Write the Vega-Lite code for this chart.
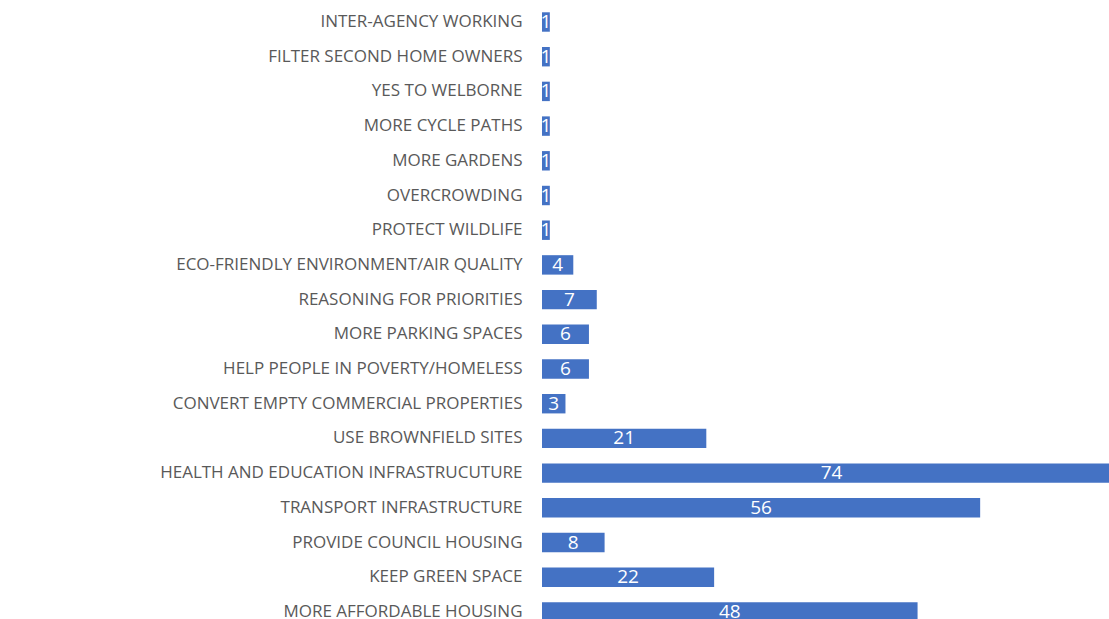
{
  "$schema": "https://vega.github.io/schema/vega-lite/v6.json",
  "width": 567,
  "height": 619,
  "autosize": "none",
  "padding": {"left": 542, "top": 0, "right": 0, "bottom": 0},
  "background": "white",
  "config": {"view": {"stroke": null}},
  "data": {
    "values": [
      {"category": "INTER-AGENCY WORKING", "count": 1},
      {"category": "FILTER SECOND HOME OWNERS", "count": 1},
      {"category": "YES TO WELBORNE", "count": 1},
      {"category": "MORE CYCLE PATHS", "count": 1},
      {"category": "MORE GARDENS", "count": 1},
      {"category": "OVERCROWDING", "count": 1},
      {"category": "PROTECT WILDLIFE", "count": 1},
      {"category": "ECO-FRIENDLY ENVIRONMENT/AIR QUALITY", "count": 4},
      {"category": "REASONING FOR PRIORITIES", "count": 7},
      {"category": "MORE PARKING SPACES", "count": 6},
      {"category": "HELP PEOPLE IN POVERTY/HOMELESS", "count": 6},
      {"category": "CONVERT EMPTY COMMERCIAL PROPERTIES", "count": 3},
      {"category": "USE BROWNFIELD SITES", "count": 21},
      {"category": "HEALTH AND EDUCATION INFRASTRUCUTURE", "count": 74},
      {"category": "TRANSPORT INFRASTRUCTURE", "count": 56},
      {"category": "PROVIDE COUNCIL HOUSING", "count": 8},
      {"category": "KEEP GREEN SPACE", "count": 22},
      {"category": "MORE AFFORDABLE HOUSING", "count": 48}
    ]
  },
  "encoding": {
    "y": {
      "field": "category",
      "type": "nominal",
      "sort": null,
      "scale": {"range": [4.65, 629.25], "paddingInner": 0.44, "paddingOuter": 0.22},
      "axis": {
        "title": null,
        "domain": false,
        "ticks": false,
        "grid": false,
        "labelPadding": 20,
        "labelFont": "Open Sans",
        "labelFontSize": 17,
        "labelColor": "#595959",
        "labelLimit": 600
      }
    }
  },
  "layer": [
    {
      "mark": {"type": "bar", "color": "#4472C4"},
      "encoding": {
        "x": {
          "field": "count",
          "type": "quantitative",
          "scale": {"domain": [0, 74], "range": [0, 579], "nice": false, "zero": true},
          "axis": null
        }
      }
    },
    {
      "mark": {"type": "text", "color": "white", "font": "Open Sans", "fontSize": 19, "baseline": "middle", "align": "center"},
      "encoding": {
        "x": {
          "field": "count",
          "type": "quantitative",
          "scale": {"domain": [0, 148], "range": [0, 579], "nice": false, "zero": true},
          "axis": null
        },
        "text": {"field": "count", "type": "quantitative"}
      }
    }
  ],
  "resolve": {"scale": {"x": "independent"}}
}
